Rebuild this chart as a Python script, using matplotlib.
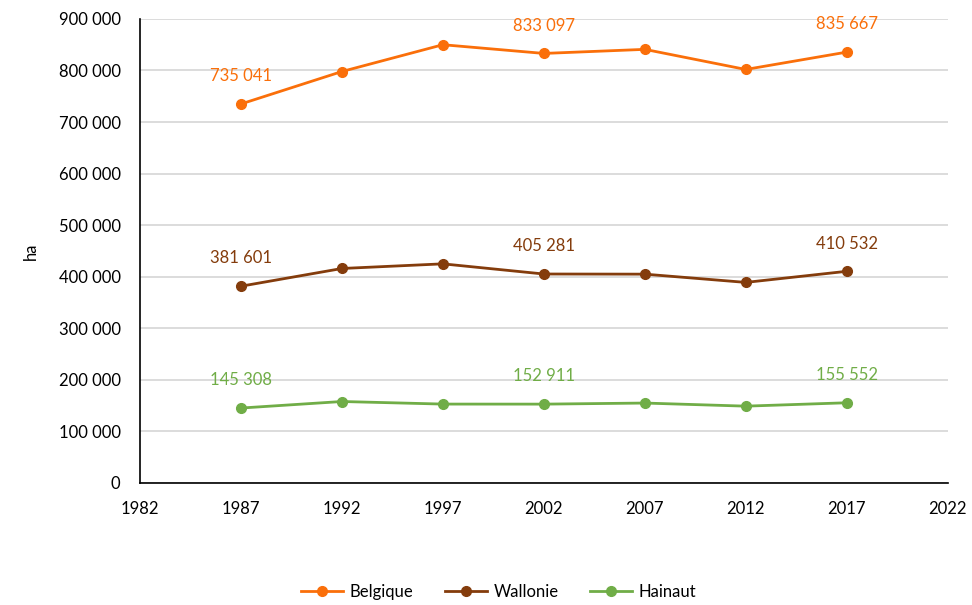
import matplotlib
matplotlib.use("Agg")
import matplotlib.pyplot as plt
from matplotlib.ticker import FuncFormatter, MultipleLocator, FixedLocator

years = [1987, 1992, 1997, 2002, 2007, 2012, 2017]
belgique = [735041, 798000, 850000, 833097, 841000, 802000, 835667]
wallonie = [381601, 416000, 425000, 405281, 405000, 389000, 410532]
hainaut = [145308, 158000, 153000, 152911, 155000, 149000, 155552]
series_names = ["Belgique", "Wallonie", "Hainaut"]
label_years = [1987, 2002, 2017]
x_ticks = [1982, 1987, 1992, 1997, 2002, 2007, 2012, 2017, 2022]

colors = ["#FA6F0A", "#843C0C", "#70AD47"]

plt.rcParams['font.family'] = ['Lato', 'DejaVu Sans']

fig = plt.figure(figsize=(9.72, 6.05), dpi=100)
ax = fig.add_axes([0.144, 0.2017, 0.831, 0.767])

def fmt(v):
    return f"{int(round(v)):,}".replace(",", " ")

for name, vals, c in zip(series_names, [belgique, wallonie, hainaut], colors):
    ax.plot(years, vals, color=c, lw=2, marker="o", ms=7, label=name, zorder=3)
    for x, y in zip(years, vals):
        if x in label_years:
            ax.annotate(fmt(y), (x, y), xytext=(0, 20), textcoords="offset points",
                        ha="center", va="center", color=c, fontsize=12)

ax.set_xlim(1982, 2022)
ax.set_ylim(0, 900000)
ax.xaxis.set_major_locator(FixedLocator(x_ticks))
ax.yaxis.set_major_locator(MultipleLocator(100000))
ax.yaxis.set_major_formatter(FuncFormatter(lambda v, p: fmt(v)))
ax.grid(axis="y", color="#D9D9D9", lw=1.3)
ax.set_axisbelow(True)
for s in ["top", "right"]:
    ax.spines[s].set_visible(False)
ax.spines["left"].set_color("black")
ax.spines["bottom"].set_color("black")
ax.spines["left"].set_linewidth(1.2)
ax.spines["bottom"].set_linewidth(1.2)
ax.tick_params(axis="both", length=0, labelsize=12, colors="black")
ax.tick_params(axis="x", pad=13)
ax.tick_params(axis="y", pad=14)
ax.set_ylabel("ha", fontsize=12, labelpad=14)

fig.legend(loc="center", bbox_to_anchor=(0.513, 0.022), ncol=3, frameon=False,
           fontsize=12, handlelength=2.5, columnspacing=1.9, handletextpad=0.4)

fig.savefig("out.png", dpi=100)
